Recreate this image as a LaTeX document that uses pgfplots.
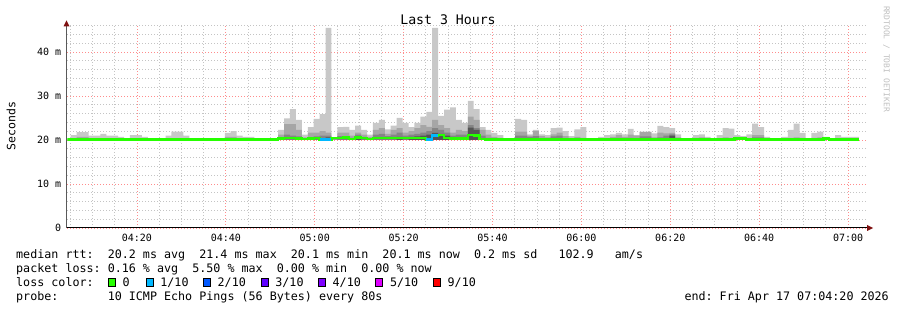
\documentclass[border=0pt]{standalone}
\usepackage{pgfplots}
\pgfplotsset{compat=1.18}
\usepackage{pgfplotstable}
\usepackage{fontspec}
\setmainfont{DejaVu Sans Mono}
\frenchspacing
\definecolor{lossA}{HTML}{26FF00}
\definecolor{lossB}{HTML}{00B8FF}
\definecolor{lossC}{HTML}{0059FF}
\definecolor{lossD}{HTML}{5E00FF}
\definecolor{lossE}{HTML}{7E00FF}
\definecolor{lossF}{HTML}{DD00FF}
\definecolor{lossG}{HTML}{FF0000}
\definecolor{smokeL}{HTML}{C8C8C8}
\definecolor{smokeM}{HTML}{A6A6A6}
\definecolor{smokeD}{HTML}{858585}
\definecolor{smokeX}{HTML}{555555}
\definecolor{mgrid}{HTML}{FF8C8C}
\definecolor{mingrid}{HTML}{C4C4C4}
\definecolor{arrowred}{HTML}{7F1010}

% smoke: k = 80 s step index, L/M/D/X = tops of light/mid/dark/darkest smoke bands (ms)
\pgfplotstableread{
k L M D X
0 20 20 20 20
0 20.1 20 20 20
1 21.1 20.3 20 20
2 21.8 20.7 20 20
3 21.8 20.7 20 20
4 21.0 20.3 20 20
5 21.0 20.3 20 20
6 21.4 20.3 20 20
7 21.0 20.3 20 20
8 21.0 20.3 20 20
9 20.7 20.2 20 20
10 20.1 20 20 20
11 21.1 20.4 20 20
12 21.1 20.4 20 20
13 20.7 20.2 20 20
14 20.1 20 20 20
15 20.1 20 20 20
16 20.45 20 20 20
17 21.0 20.3 20 20
18 21.9 20.4 20 20
19 21.9 20.4 20 20
20 21.0 20.3 20 20
21 20.1 20 20 20
22 20.1 20 20 20
23 20.1 20 20 20
24 20.1 20 20 20
25 20.1 20 20 20
26 20.45 20 20 20
27 21.6 20.7 20 20
28 22.0 20.7 20 20
29 21.0 20.4 20 20
30 20.7 20.5 20.3 20
31 20.7 20.4 20 20
32 20.1 20 20 20
33 20.1 20 20 20
34 20.1 20 20 20
35 20.4 20.3 20 20
36 22.3 21.2 20.5 20
37 24.9 23.6 21.2 20
38 27.0 23.6 21.0 20
39 24.6 22.3 20.8 20
40 21.2 20.6 20.3 20
41 22.9 21.7 20.6 20
42 24.8 21.7 20.8 20
43 25.9 22.0 21.0 20
44 45.5 21.7 21.0 20.6
45 20.4 20.3 20 20
46 22.9 21.7 20.9 20
47 23.0 21.7 20.9 20
48 22.3 21.0 20.5 20
49 23.25 21.7 21.2 20.8
50 22.3 21.2 20.7 20
51 21.2 20.7 20 20
52 23.9 22.3 21.2 20
53 24.6 22.7 21.4 20
54 22.4 21.4 20.9 20
55 23.25 22.3 21.2 20
56 25.0 22.7 21.7 20.7
57 23.9 21.7 21.0 20
58 22.9 22.0 21.2 20.7
59 23.9 22.7 21.4 20.8
60 25.3 23.4 21.7 21.0
61 26.4 23.0 22.0 21.2
62 45.5 24.6 22.7 21.6
63 25.5 23.4 22.3 21.4
64 26.9 22.7 21.7 21.0
65 27.4 21.7 21.0 20.5
66 24.6 22.3 21.2 20
67 23.9 22.0 21.2 20
68 28.9 25.3 23.4 22.8
69 27.0 24.6 22.7 22.3
70 22.9 22.3 21.0 20
71 22.3 21.2 20.5 20
72 21.6 20.7 20 20
73 21.1 20.5 20 20
74 20.1 20 20 20
75 20.1 20 20 20
76 24.8 21.9 21.0 20
77 24.6 21.9 21.0 20
78 21.3 21.0 20.7 20
79 22.3 22.0 20.9 20
80 21.3 20.9 20 20
81 21.1 20.6 20 20
82 22.7 21.3 20.8 20
83 22.8 21.7 21.0 20
84 22.0 20.9 20 20
85 20.9 20.5 20 20
86 22.4 20.7 20 20
87 22.9 20.5 20 20
88 20.2 20 20 20
89 20.2 20 20 20
90 20.7 20.2 20 20
91 21.1 20.4 20 20
92 21.3 20.7 20 20
93 21.6 21.1 20.5 20
94 21.3 20.7 20 20
95 22.5 21.2 20.5 20
96 21.1 21.0 20.4 20
97 21.9 21.8 20.8 20
98 21.9 21.8 20.8 20
99 21.5 20.6 20 20
100 23.2 21.7 20.6 20
101 22.9 21.5 21.0 20.4
102 22.7 21.6 21.3 21.0
103 21.3 20.6 20 20
104 20.1 20 20 20
105 20.1 20 20 20
106 21.1 20.5 20 20
107 21.3 20.6 20 20
108 20.7 20.3 20 20
109 20.1 20 20 20
110 21.1 20.3 20 20
111 22.7 20.6 20 20
112 22.6 20.5 20 20
113 21.1 20.7 20 20
114 20.9 20.5 20 20
115 21.3 20.4 20 20
116 23.7 21.1 20.6 20
117 22.9 21.1 20.6 20
118 20.7 20.4 20 20
119 20.1 20 20 20
120 20.4 20 20 20
121 20.7 20 20 20
122 22.3 20.5 20 20
123 23.7 20.6 20 20
124 21.6 20.5 20 20
125 20.4 20 20 20
126 21.6 20.5 20 20
127 21.9 20.6 20 20
128 20.7 20.4 20 20
129 20.4 20 20 20
130 21.1 20.4 20 20
131 20.7 20 20 20
132 20.7 20 20 20
133 20.7 20 20 20
134 20 20 20 20
}\smoke

% median rtt (ms) at each change of value
\pgfplotstableread{
k med
0 20.1
36 20.3
37 20.4
39 20.3
40 20.2
41 20.3
42 20.4
43 20.1
45 20.5
47 20.6
48 20.2
49 20.6
50 20.5
51 20.2
52 20.5
57 20.4
58 20.5
59 20.4
60 20.5
61 20.1
62 21.0
63 21.1
64 20.5
65 20.3
68 21.2
69 21.0
70 20.2
71 20.1
113 20.3
115 20.1
128 20.3
129 20.1
134 20.1
}\median

\begin{document}
\begin{tikzpicture}[x=1pt,y=1pt]
\path[use as bounding box] (0,0) rectangle (897,310);
\begin{axis}[
  at={(67.3pt,82pt)}, anchor=south west,
  scale only axis, width=800pt, height=202.4pt,
  xmin=0.42, xmax=135.42, ymin=0, ymax=46,
  axis line style={draw=none},
  tick pos=left,
  xtick={12.1725,27.1725,42.1725,57.1725,72.1725,87.1725,102.1725,117.1725,132.1725},
  xticklabels={04:20,04:40,05:00,05:20,05:40,06:00,06:20,06:40,07:00},
  minor xtick={0.9225,4.6725,8.4225,15.9225,19.6725,23.4225,30.9225,34.6725,38.4225,45.9225,49.6725,53.4225,60.9225,64.6725,68.4225,75.9225,79.6725,83.4225,90.9225,94.6725,98.4225,105.9225,109.6725,113.4225,120.9225,124.6725,128.4225},
  ytick={0,10,20,30,40},
  yticklabels={0,10 m,20 m,30 m,40 m},
  minor ytick={2,4,6,8,12,14,16,18,22,24,26,28,32,34,36,38,42,44,46},
  tick style={draw=none},
  tick align=outside, major tick length=3pt, minor tick length=2pt,
  grid=both,
  major grid style={draw=mgrid, line width=0.8pt, dash pattern=on 1pt off 2pt},
  minor grid style={draw=mingrid, line width=0.8pt, dash pattern=on 1pt off 2pt},
  xticklabel style={font=\fontsize{10}{12}\selectfont, inner sep=0pt, yshift=-3pt},
  yticklabel style={font=\fontsize{10}{12}\selectfont, inner sep=0pt, xshift=-3pt},
  /pgf/number format/assume math mode=true,
  clip=true,
]
\addplot[const plot, draw=none, fill=smokeL] table[x=k, y=L] {\smoke};
\addplot[const plot, draw=none, fill=smokeM] table[x=k, y=M] {\smoke};
\addplot[const plot, draw=none, fill=smokeD] table[x=k, y=D] {\smoke};
\addplot[const plot, draw=none, fill=smokeX] table[x=k, y=X] {\smoke};
\addplot[const plot, draw=lossA, line width=2.4pt] table[x=k, y=med] {\median};
\addplot[const plot, draw=lossB, line width=2.4pt] coordinates {(43,20.1) (45,20.1)};
\addplot[const plot, draw=lossB, line width=2.4pt] coordinates {(61,20.1) (62,21.0) (63,21.0)};
\end{axis}
% axis lines with arrows
\draw[black!65, line width=1pt] (66.5,82) -- (66.5,285);
\fill[arrowred] (63.5,283.5) -- (69.5,283.5) -- (66.5,289.5) -- cycle;
\draw[black, line width=1pt] (66.5,82) -- (867,82);
\fill[arrowred] (867,79) -- (867,85) -- (873,82) -- cycle;
% title, y label, watermark
\node[font=\fontsize{13.2}{15}\selectfont, inner sep=0pt] at (448,290.5) {Last 3 Hours};
\node[font=\fontsize{11.5}{13}\selectfont, inner sep=0pt, rotate=90] at (11,184) {Seconds};
\node[font=\fontsize{8}{9}\selectfont, inner sep=0pt, rotate=-90, text=black!25] at (886.5,251) {RRDTOOL / TOBI OETIKER};
% legend
\begin{scope}[every node/.style={font=\fontsize{11.7}{13}\selectfont, inner sep=0pt, anchor=base west}]
\node at (16,51.8) {median rtt:~~20.2 ms avg~~21.4 ms max~~20.1 ms min~~20.1 ms now~~0.2 ms sd~~~102.9~~~am/s};
\node at (16,37.8) {packet loss: 0.16 \% avg~~5.50 \% max~~0.00 \% min~~0.00 \% now};
\node at (16,23.8) {loss color:};
\node at (16,9.8) {probe:~~~~~~~10 ICMP Echo Pings (56 Bytes) every 80s};
\node[anchor=base east] at (889,9.8) {end: Fri Apr 17 07:04:20 2026};
\foreach \bx/\col/\lab in {108.3/lossA/0, 146/lossB/1\slash 10, 203.3/lossC/2\slash 10, 261/lossD/3\slash 10, 318.3/lossE/4\slash 10, 375.7/lossF/5\slash 10, 433.3/lossG/9\slash 10}{
  \filldraw[fill=\col, draw=black, line width=0.6pt] (\bx,23.5) rectangle ++(7,8);
  \node at (\bx+14.2,23.8) {\lab};
}
\end{scope}
\end{tikzpicture}
\end{document}
